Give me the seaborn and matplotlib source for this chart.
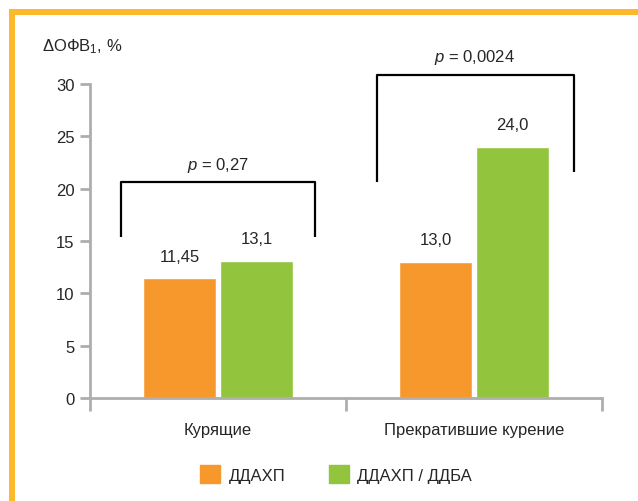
import pandas as pd
import seaborn as sns
import matplotlib.pyplot as plt
from matplotlib.patches import Rectangle

groups = ['Курящие', 'Прекратившие курение']
therapies = ['ДДАХП', 'ДДАХП / ДДБА']
ddahp = [11.45, 13.0]
ddahp_ddba = [13.1, 24.0]
value_labels = [['11,45', '13,0'], ['13,1', '24,0']]
p_labels = ['0,27', '0,0024']
yticks = [0, 5, 10, 15, 20, 25, 30]

sns.set_style('white')
font = 'Liberation Sans'
plt.rcParams['font.family'] = [font, 'DejaVu Sans']
plt.rcParams['mathtext.fontset'] = 'custom'
plt.rcParams['mathtext.rm'] = font
plt.rcParams['mathtext.it'] = font + ':italic'
plt.rcParams['text.color'] = '#262626'
fs = 12

df = pd.DataFrame({
    'group': groups * 2,
    'therapy': [therapies[0]] * 2 + [therapies[1]] * 2,
    'value': ddahp + ddahp_ddba,
})

fig = plt.figure(figsize=(6.38, 5.02), dpi=100)
ax = fig.add_axes([90 / 638, 1 - 399 / 502, 512 / 638, 314 / 502])

sns.barplot(data=df, x='group', y='value', hue='therapy', order=groups,
            hue_order=therapies, palette=['#F7982D', '#92C43E'],
            width=0.6, gap=0.05, saturation=1, ax=ax, legend=False)

# value labels above bars
for j, cont in enumerate(ax.containers):
    for i, bar in enumerate(cont):
        ax.text(bar.get_x() + bar.get_width() / 2, bar.get_height() + 1.4,
                value_labels[j][i], ha='center', va='bottom', fontsize=fs)

# significance brackets
kw = dict(color='black', lw=1.6, clip_on=False, solid_capstyle='butt')
ax.plot([-0.38, -0.38, 0.38, 0.38], [15.4, 20.6, 20.6, 15.4], **kw)
ax.text(0, 21.4, '$\\it{p}$ = ' + p_labels[0], ha='center', va='bottom', fontsize=fs)
ax.plot([0.62, 0.62, 1.39, 1.39], [20.6, 30.9, 30.9, 21.6], **kw)
ax.text(1.0, 31.7, '$\\it{p}$ = ' + p_labels[1], ha='center', va='bottom', fontsize=fs)

ax.set_xlim(-0.5, 1.5)
ax.set_ylim(0, 30)
ax.set_yticks(yticks)
ax.set_yticklabels([str(t) for t in yticks], fontsize=fs)
ax.set_xticks([0, 1])
ax.set_xticklabels(groups, fontsize=fs)
ax.set_xticks([-0.5, 0.5, 1.5], minor=True)
ax.tick_params(axis='x', which='major', length=0, pad=17)
ax.tick_params(axis='x', which='minor', bottom=True, length=9, width=2,
               color='#AEAEAE', direction='out')
ax.tick_params(axis='y', left=True, length=7, width=2, color='#AEAEAE', pad=4)
ax.set_xlabel('')
ax.set_ylabel('')
sns.despine(ax=ax)
for s in ['left', 'bottom']:
    ax.spines[s].set_color('#AEAEAE')
    ax.spines[s].set_linewidth(2)

fig.text(42 / 638, 1 - 47 / 502, 'ΔОФВ$_1$, %', ha='left', va='center', fontsize=fs)

# legend
handles = [Rectangle((0, 0), 1, 1, color=c) for c in ['#F7982D', '#92C43E']]
fig.legend(handles, therapies, loc='center', bbox_to_anchor=(0.527, 1 - 475 / 502),
           ncol=2, frameon=False, fontsize=fs, handlelength=1.2, handleheight=1.2,
           columnspacing=2.6, handletextpad=0.5)

# orange frame on top and left
fig.add_artist(Rectangle((9 / 638, 0), 6 / 638, 1 - 10 / 502, transform=fig.transFigure,
                         color='#FDB92B', lw=0))
fig.add_artist(Rectangle((9 / 638, 1 - 16 / 502), 1, 6 / 502, transform=fig.transFigure,
                         color='#FDB92B', lw=0))

fig.savefig('out.png', dpi=100)
